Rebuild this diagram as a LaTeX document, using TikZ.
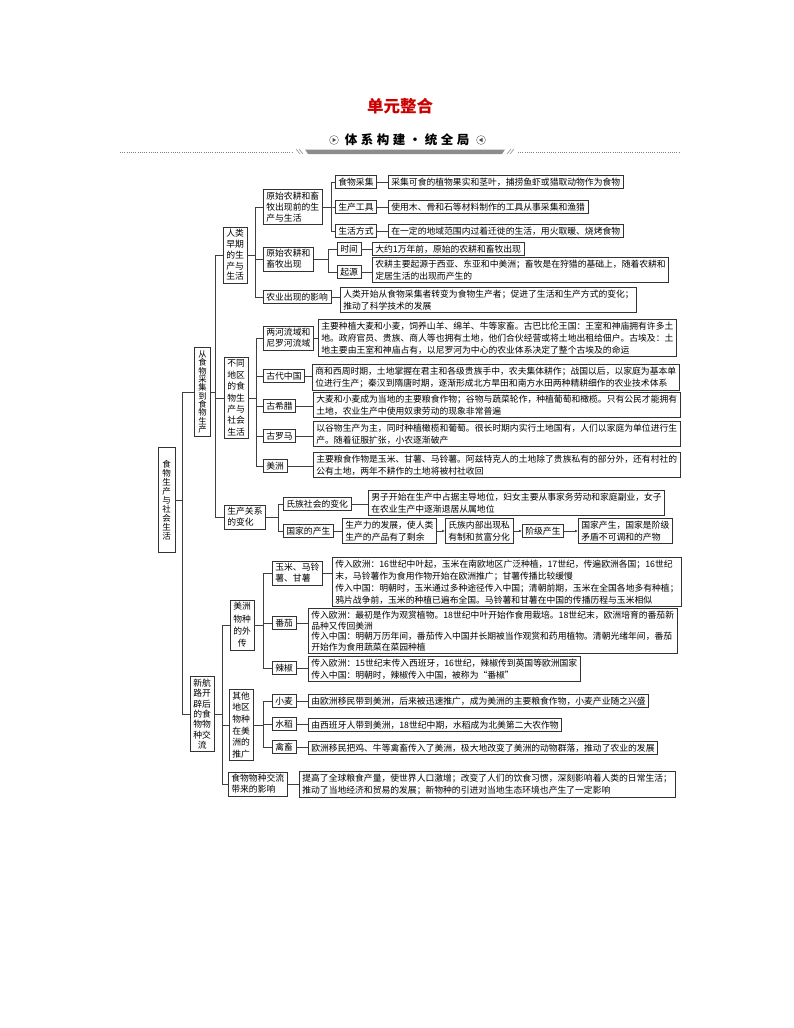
\documentclass[tikz,border=0pt]{standalone}
\usepackage{fontspec}
\setmainfont{Noto Sans CJK SC}
\usetikzlibrary{arrows.meta}
\newcommand\fs{\fontsize{8.8}{11}\selectfont}
\tikzset{
  box/.style={draw=black!80, line width=0.7pt, inner xsep=3pt, inner ysep=2.5pt, align=left, anchor=west, font=\fs},
  note/.style={box, font=\fontsize{8.8}{#1}\selectfont},
  note/.default=12,
  col/.style={box, align=center, font=\fontsize{8.8}{#1}\selectfont},
  link/.style={draw=black!75, line width=0.6pt},
  chain/.style={link, -{Latex[length=3pt,width=2.6pt]}},
}
\begin{document}
\begin{tikzpicture}[x=1pt,y=-1pt]
\useasboundingbox (0,0) rectangle (794,1028);
% heading
\node[font=\fontsize{16.5}{17}\selectfont\bfseries, text=red!80!black] (title) at (400,106) {单元整合};
\node[font=\fontsize{12.5}{13}\selectfont\bfseries] (banner) at (407,140) {体\hspace{3.5pt}系\hspace{3.5pt}构\hspace{3.5pt}建\hspace{3.5pt}·\hspace{3.5pt}统\hspace{3.5pt}全\hspace{3.5pt}局};
\node[circle, draw=black!60, inner sep=0pt, minimum size=9pt] (larr) at (334,140) {};
\node[circle, draw=black!60, inner sep=0pt, minimum size=9pt] (rarr) at (481,140) {};
\fill[black!70] ([xshift=-1.5pt,yshift=2.2pt]larr.center) -- ++(3.6,2.2) -- ++(-3.6,2.2) -- cycle;
\fill[black!70] ([xshift=1.5pt,yshift=2.2pt]rarr.center) -- ++(-3.6,2.2) -- ++(3.6,2.2) -- cycle;
\fill[black!45] (305,149.5) -- (505,149.5) -- (502,154) -- (308,154) -- cycle;
\draw[black!50, line width=0.5pt] (296,149) -- (300,154) (299,149) -- (303,154) (507,154) -- (511,149) (510,154) -- (514,149);
\draw[black!50, line width=0.7pt, dash pattern=on 0.7pt off 1.5pt] (120,152) -- (292,152) (518,152) -- (680,152);

% left columns
\node[col=8.5, font=\fontsize{8.5}{9}\selectfont, inner xsep=4pt, minimum height=105pt] (root) at (158,500) {食\\物\\生\\产\\与\\社\\会\\生\\活};
\node[col=8, font=\fontsize{8.3}{8.3}\selectfont, inner xsep=4pt, minimum height=89pt] (caiji) at (194,392) {从\\食\\物\\采\\集\\到\\食\\物\\生\\产};
\node[col=10.3] (hanglu) at (190,714) {新航\\路开\\辟后\\的食\\物物\\种交\\流};

\node[col=10.8] (renlei) at (223,255) {人类\\早期\\的生\\产与\\生活};
\node[col=11.4] (butong) at (224,398) {不同\\地区\\的食\\物生\\产与\\社会\\生活};
\node[box] (guanxi) at (224,517) {生产关系\\的变化};
\node[col=12.3] (waichuan) at (230,625) {美洲\\物种\\的外\\传};
\node[col=11.7] (tuiguang) at (229,725) {其他\\地区\\物种\\在美\\洲的\\推广};
\node[box] (yingxiang) at (228,784) {食物物种交流\\带来的影响};

% early life
\node[box] (qian) at (263,207) {原始农耕和畜\\牧出现前的生\\产与生活};
\node[box] (chuxian) at (263,259) {原始农耕和\\畜牧出现};
\node[box] (nongye) at (263,297) {农业出现的影响};
\node[box] (shiwu) at (335,182) {食物采集};
\node[box] (gongju) at (335,207) {生产工具};
\node[box] (fangshi) at (335,231) {生活方式};
\node[box] (shijian) at (337,249) {时间};
\node[box] (qiyuan) at (337,272) {起源};
\node[note] (shiwud) at (388,182) {采集可食的植物果实和茎叶，捕捞鱼虾或猎取动物作为食物};
\node[note] (gongjud) at (388,207) {使用木、骨和石等材料制作的工具从事采集和渔猎};
\node[note] (fangshid) at (388,231) {在一定的地域范围内过着迁徙的生活，用火取暖、烧烤食物};
\node[note] (shijiand) at (372,249) {大约1万年前，原始的农耕和畜牧出现};
\node[note] (qiyuand) at (372,270) {农耕主要起源于西亚、东亚和中美洲；畜牧是在狩猎的基础上，随着农耕和\\定居生活的出现而产生的};
\node[note] (nongyed) at (340,300) {人类开始从食物采集者转变为食物生产者；促进了生活和生产方式的变化；\\推动了科学技术的发展};

% regions
\node[box] (lianghe) at (263,338) {两河流域和\\尼罗河流域};
\node[box] (gudai) at (263,376) {古代中国};
\node[box] (xila) at (263,406) {古希腊};
\node[box] (luoma) at (263,436) {古罗马};
\node[box] (meizhou) at (263,466) {美洲};
\node[note] (lianghed) at (318,338) {主要种植大麦和小麦，饲养山羊、绵羊、牛等家畜。古巴比伦王国：王室和神庙拥有许多土\\地。政府官员、贵族、商人等也拥有土地，他们合伙经营或将土地出租给佃户。古埃及：土\\地主要由王室和神庙占有，以尼罗河为中心的农业体系决定了整个古埃及的命运};
\node[note] (gudaid) at (312,377) {商和西周时期，土地掌握在君主和各级贵族手中，农夫集体耕作；战国以后，以家庭为基本单\\位进行生产；秦汉到隋唐时期，逐渐形成北方旱田和南方水田两种精耕细作的农业技术体系};
\node[note] (xilad) at (313,405) {大麦和小麦成为当地的主要粮食作物；谷物与蔬菜轮作，种植葡萄和橄榄。只有公民才能拥有\\土地，农业生产中使用奴隶劳动的现象非常普遍};
\node[note] (luomad) at (313,434) {以谷物生产为主，同时种植橄榄和葡萄。很长时期内实行土地国有，人们以家庭为单位进行生\\产。随着征服扩张，小农逐渐破产};
\node[note] (meizhoud) at (313,465) {主要粮食作物是玉米、甘薯、马铃薯。阿兹特克人的土地除了贵族私有的部分外，还有村社的\\公有土地，两年不耕作的土地将被村社收回};

% relations
\node[box] (shizu) at (283,504) {氏族社会的变化};
\node[box] (guojia) at (283,531) {国家的产生};
\node[note] (shizud) at (368,503) {男子开始在生产中占据主导地位，妇女主要从事家务劳动和家庭副业，女子\\在农业生产中逐渐退居从属地位};
\node[note] (shengyu) at (342,531) {生产力的发展，使人类\\生产的产品有了剩余};
\node[note] (siyou) at (445,531) {氏族内部出现私\\有制和贫富分化};
\node[note] (jieji) at (522,531) {阶级产生};
\node[note] (chansheng) at (578,531) {国家产生，国家是阶级\\矛盾不可调和的产物};

% spread of crops
\node[box] (yumi) at (272,573) {玉米、马铃\\薯、甘薯};
\node[box] (fanqie) at (272,623) {番茄};
\node[box] (lajiao) at (272,668) {辣椒};
\node[box] (xiaomai) at (272,701) {小麦};
\node[box] (shuidao) at (272,724) {水稻};
\node[box] (qinchu) at (272,747) {禽畜};
\node[note] (yumid) at (332,582) {传入欧洲：16世纪中叶起，玉米在南欧地区广泛种植，17世纪，传遍欧洲各国；16世纪\\末，马铃薯作为食用作物开始在欧洲推广；甘薯传播比较缓慢\\传入中国：明朝时，玉米通过多种途径传入中国；清朝前期，玉米在全国各地多有种植；\\鸦片战争前，玉米的种植已遍布全国。马铃薯和甘薯在中国的传播历程与玉米相似};
\node[note=10.5] (fanqied) at (308,631) {传入欧洲：最初是作为观赏植物。18世纪中叶开始作食用栽培。18世纪末，欧洲培育的番茄新\\品种又传回美洲\\传入中国：明朝万历年间，番茄传入中国并长期被当作观赏和药用植物。清朝光绪年间，番茄\\开始作为食用蔬菜在菜园种植};
\node[note] (lajiaod) at (308,669) {传入欧洲：15世纪末传入西班牙，16世纪，辣椒传到英国等欧洲国家\\传入中国：明朝时，辣椒传入中国，被称为“番椒”};
\node[note] (xiaomaid) at (308,701) {由欧洲移民带到美洲，后来被迅速推广，成为美洲的主要粮食作物，小麦产业随之兴盛};
\node[note] (shuidaod) at (308,725) {由西班牙人带到美洲，18世纪中期，水稻成为北美第二大农作物};
\node[note] (qinchud) at (308,748) {欧洲移民把鸡、牛等禽畜传入了美洲，极大地改变了美洲的动物群落，推动了农业的发展};
\node[note] (yingxiangd) at (299,784) {提高了全球粮食产量，使世界人口激增；改变了人们的饮食习惯，深刻影响着人类的日常生活；\\推动了当地经济和贸易的发展；新物种的引进对当地生态环境也产生了一定影响};

% tree lines
\foreach \c in {caiji,hanglu} \draw[link] (root.east) -- ++(7,0) |- (\c.west);
\foreach \c in {renlei,butong,guanxi} \draw[link] (caiji.east) -- ++(4,0) |- (\c.west);
\foreach \c in {qian,chuxian,nongye} \draw[link] (renlei.east) -- ++(8,0) |- (\c.west);
\foreach \c in {shiwu,gongju,fangshi} \draw[link] (qian.east) -- ++(9,0) |- (\c.west);
\foreach \c in {shijian,qiyuan} \draw[link] (chuxian.east) -- ++(15,0) |- (\c.west);
\foreach \c in {lianghe,gudai,xila,luoma,meizhou} \draw[link] (butong.east) -- ++(8,0) |- (\c.west);
\foreach \c in {shizu,guojia} \draw[link] (guanxi.east) -- ++(12,0) |- (\c.west);
\foreach \c in {waichuan,tuiguang,yingxiang} \draw[link] (hanglu.east) -- ++(8,0) |- (\c.west);
\foreach \c in {yumi,fanqie,lajiao} \draw[link] (waichuan.east) -- ++(9,0) |- (\c.west);
\foreach \c in {xiaomai,shuidao,qinchu} \draw[link] (tuiguang.east) -- ++(10,0) |- (\c.west);
% label to text
\foreach \a/\b in {shiwu/shiwud,gongju/gongjud,fangshi/fangshid,shijian/shijiand,qiyuan/qiyuand,nongye/nongyed,
  lianghe/lianghed,gudai/gudaid,xila/xilad,luoma/luomad,meizhou/meizhoud,shizu/shizud,guojia/shengyu,
  yumi/yumid,fanqie/fanqied,lajiao/lajiaod,xiaomai/xiaomaid,shuidao/shuidaod,qinchu/qinchud,yingxiang/yingxiangd}
  \draw[link] (\a.east) -- (\a.east -| \b.west);
\draw[chain] (shengyu) -- (siyou);
\draw[chain] (siyou) -- (jieji);
\draw[chain] (jieji) -- (chansheng);
\end{tikzpicture}
\end{document}
